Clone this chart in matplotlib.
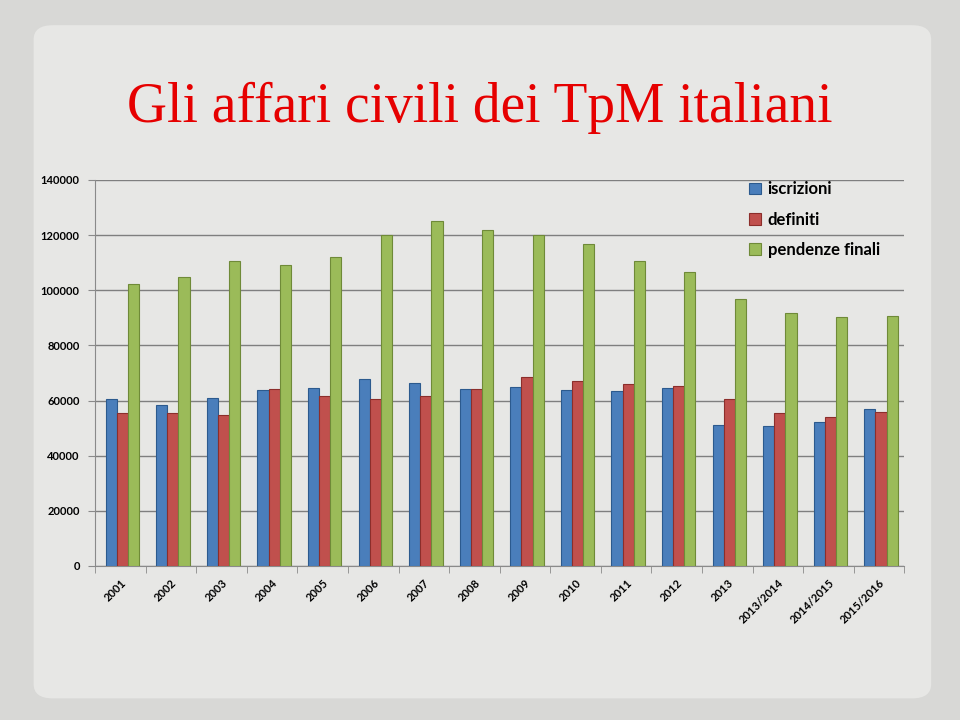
import matplotlib
matplotlib.use('Agg')
import matplotlib.pyplot as plt
from matplotlib.patches import FancyBboxPatch
import numpy as np

years = ['2001', '2002', '2003', '2004', '2005', '2006', '2007', '2008',
         '2009', '2010', '2011', '2012', '2013', '2013/2014', '2014/2015', '2015/2016']
iscrizioni = [60600, 58200, 61000, 63700, 64600, 67700, 66500, 64300,
              65000, 63800, 63400, 64600, 51000, 50600, 52100, 57100]
definiti = [55500, 55500, 54600, 64000, 61600, 60400, 61800, 64300,
            68500, 67100, 65900, 65200, 60600, 55500, 54000, 55700]
pendenze = [102100, 104900, 110600, 109200, 112200, 119900, 125000, 122000,
            119900, 116700, 110700, 106500, 97000, 91700, 90200, 90500]
series_names = ['iscrizioni', 'definiti', 'pendenze finali']
colors = ['#4a7ebb', '#c0504d', '#9bbb59']
edges = ['#2c5a8e', '#8c2e2b', '#6f8a38']

plt.rcParams['font.family'] = ['Lato', 'DejaVu Sans']

fig = plt.figure(figsize=(9.6, 7.2), dpi=100)
fig.patch.set_facecolor('#d8d8d6')

# lighter slide panel behind everything
panel = FancyBboxPatch((0.035, 0.03), 0.935, 0.935, boxstyle='round,pad=0.0,rounding_size=0.02',
                       transform=fig.transFigure, facecolor='#e7e7e5', edgecolor='none', zorder=-10)
fig.patches.append(panel)

fig.text(0.5, 0.85, 'Gli affari civili dei TpM italiani', ha='center', va='center',
         fontsize=40, color='#e60000', family='Liberation Serif')

ax = fig.add_axes([0.099, 0.214, 0.843, 0.536])
ax.set_facecolor('none')

x = np.arange(len(years))
w = 0.22
for i, (vals, name) in enumerate(zip([iscrizioni, definiti, pendenze], series_names)):
    ax.bar(x + (i - 1) * w + 0.04, vals, width=w, color=colors[i], edgecolor=edges[i],
           linewidth=0.8, label=name, zorder=3)

ax.set_xlim(-0.5, len(years) - 0.5)
ax.set_ylim(0, 140000)
ax.set_yticks(range(0, 140001, 20000))
ax.set_yticklabels([str(v) for v in range(0, 140001, 20000)], fontsize=8, fontweight='bold')
ax.yaxis.grid(True, color='#7f7f7f', linewidth=1.0, zorder=0)
ax.set_axisbelow(True)

ax.set_xticks(x)
ax.set_xticklabels(years, rotation=45, ha='right', rotation_mode='anchor',
                   fontsize=8, fontweight='bold')
ax.set_xticks(np.arange(-0.5, len(years), 1), minor=True)
ax.tick_params(axis='x', which='major', length=0, pad=8)
ax.tick_params(axis='x', which='minor', length=5, color='#8a8a8a')
ax.tick_params(axis='y', length=5, color='#8a8a8a', pad=6)

for s in ['top', 'right']:
    ax.spines[s].set_visible(False)
for s in ['left', 'bottom']:
    ax.spines[s].set_color('#8a8a8a')

leg = ax.legend(loc='upper left', bbox_to_anchor=(0.79, 1.035), frameon=False,
                handlelength=0.7, handleheight=0.7, handletextpad=0.4,
                labelspacing=0.85, prop={'size': 12, 'weight': 'bold'})

fig.savefig('out.png', dpi=100, facecolor=fig.get_facecolor())
